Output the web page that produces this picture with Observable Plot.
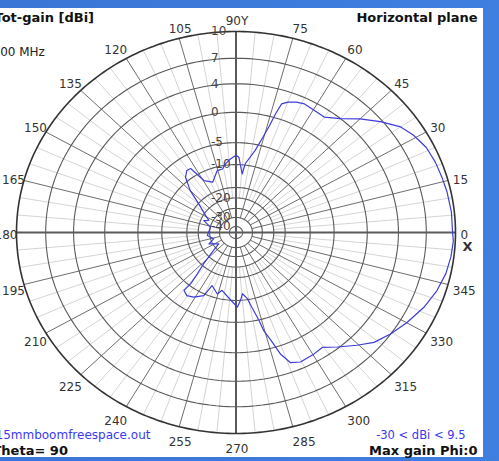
<!DOCTYPE html>
<html><head><meta charset="utf-8">
<script src="https://cdn.jsdelivr.net/npm/d3@7"></script>
<script src="https://cdn.jsdelivr.net/npm/@observablehq/plot@0.6"></script>
<style>
html,body{margin:0;padding:0;width:499px;height:461px;overflow:hidden;background:linear-gradient(90deg,#3a76d6,#3f7fdf);}
#panel{position:absolute;left:0;top:8px;width:483px;height:449px;background:#fff;}
#chart{position:absolute;left:0;top:0;}
</style></head><body>
<div id="panel"></div><div id="chart"></div>
<script>
// Pattern: azimuth (deg) and total gain (dBi)
const angleDeg = [0,6,12,16,21,26,31,35,40,45,50,55,60,64,67,70,72,73,74,75.5,78,83,84.5,88,90,94,98,101,105.5,113,119.5,123,126,130,135,140,148.5,154,158,167,186.5,197,204.5,215.5,222,226.5,229.5,231,230.5,234.5,239,245,247.5,254.5,257.5,266,271,273.5,275.5,279,280.5,283.5,284.5,286.5,288.5,291,294.5,300.5,304.5,309,314.5,319,324.5,330,336.5,342.5,348,353,357.5];
const gainDb = [9.7,9.7,9.6,9.5,9.4,9.2,8.7,8.1,6.8,5.4,4.0,2.9,3.0,3.2,3.0,2.6,2.1,0.6,-1.5,-3.6,-6.4,-9.7,-12.0,-8.3,-7.9,-8.7,-9.7,-10.7,-10.8,-12.9,-11.8,-8.1,-8.0,-9.1,-11.9,-15.2,-20.9,-23.3,-21.3,-25.1,-23.9,-26.6,-23.5,-27.6,-22.5,-16.0,-12.9,-10.4,-8.4,-7.8,-8.3,-9.6,-12.3,-10.9,-11.9,-10.0,-8.5,-10.0,-11.4,-10.2,-8.6,-4.9,-3.1,-1.3,1.1,2.7,3.1,2.9,2.7,3.8,5.1,6.2,7.0,7.7,8.5,9.1,9.5,9.7,9.8];
const ringDb = [10,7,4,0,-5,-10,-15,-20,-25,-30,-40];
const ringLabelDb = [10,7,4,0,-5,-10,-20,-30,-40];
const angleTicks = [0,15,30,45,60,75,90,105,120,135,150,165,180,195,210,225,240,255,270,285,300,315,330,345];
const angleLabels = ["0","15","30","45","60","75","90Y","105","120","135","150","165","180","195","210","225","240","255","270","285","300","315","330","345"];
const titleLeft = "Tot-gain [dBi]";
const freqText = "600 MHz";
const titleRight = "Horizontal plane";
const fileText = "15mmboomfreespace.out";
const thetaText = "Theta= 90";
const rangeText = "-30 < dBi < 9.5";
const maxText = "Max gain Phi:0";

// Radial dB scale of the chart (compressed log-like scale)
const R = d3.scaleLinear()
  .domain([-40,-30,-25,-20,-15,-10,-5,0,4,7,10])
  .range([0.03,0.075,0.12,0.172,0.224,0.338,0.447,0.598,0.74,0.867,1])
  .clamp(true);
const rad = a => a * Math.PI / 180;
const px = (db, a) => R(db) * Math.cos(rad(a));
const py = (db, a) => R(db) * Math.sin(rad(a));

const W = 499, H = 461, mL = 16, mR = 44, mT = 31, mB = 28;
const XR = (W - mL - mR) / 2, YR = (H - mT - mB) / 2; // px per unit

const ringPts = ringDb.filter(d => d !== 10).flatMap(db => d3.range(0, 361, 2).map(a => ({db, a})));
const outerPts = d3.range(0, 361, 1).map(a => ({db: 10, a}));
const minor = d3.range(0, 360, 5).filter(a => a % 15 !== 0);
const major = angleTicks.filter(a => a % 90 !== 0);
const pattern = angleDeg.map((a, i) => ({a, g: gainDb[i]}));
const closed = [...pattern, pattern[0]];

const ticks = angleTicks.map((a, i) => ({a, label: angleLabels[i], c: Math.cos(rad(a)), s: Math.sin(rad(a))}));
const grp = t => t.c > 0.2 ? "start" : t.c < -0.3 ? "end" : "middle";
const lx = t => px(10, t.a) + (grp(t) === "start" ? 7 * t.c - 2 : grp(t) === "end" ? 1 : 1) / XR;
const ly = t => py(10, t.a) - (-13 * t.s + 3) / YR;
const labelMark = anchor => Plot.text(ticks.filter(t => grp(t) === anchor), {
  x: lx, y: ly, text: "label", textAnchor: anchor, lineAnchor: "middle",
  fontSize: 12, fill: "#333"
});

const chart = Plot.plot({
  width: W, height: H,
  marginLeft: mL, marginRight: mR, marginTop: mT, marginBottom: mB,
  x: {domain: [-1, 1], axis: null},
  y: {domain: [-1, 1], axis: null},
  style: {background: "transparent", fontFamily: "DejaVu Sans", overflow: "hidden"},
  marks: [
    Plot.link(minor, {x1: a => px(-20, a), y1: a => py(-20, a), x2: a => px(10, a), y2: a => py(10, a), stroke: "#cfcfcf", strokeWidth: 0.9}),
    Plot.link(major, {x1: a => px(-30, a), y1: a => py(-30, a), x2: a => px(10, a), y2: a => py(10, a), stroke: "#6e6e6e", strokeWidth: 1}),
    Plot.line(ringPts, {x: d => px(d.db, d.a), y: d => py(d.db, d.a), z: "db", stroke: "#5a5a5a", strokeWidth: 1.1}),
    Plot.link([0, 90], {x1: a => px(10, a + 180), y1: a => py(10, a + 180), x2: a => px(10, a), y2: a => py(10, a), stroke: "#5a5a5a", strokeWidth: 2}),
    Plot.line(outerPts, {x: d => px(d.db, d.a), y: d => py(d.db, d.a), stroke: "#333", strokeWidth: 1.6}),
    Plot.text(ringLabelDb, {x: 0, y: d => R(d), dx: -25, text: d => String(d), textAnchor: "start", lineAnchor: "middle", fontSize: 12, fill: "#444"}),
    labelMark("start"), labelMark("end"), labelMark("middle"),
    Plot.text(["X"], {x: px(10, 0), y: 0, dx: 12, dy: 14, text: d => d, fontSize: 13, fontWeight: "bold", fill: "#333"}),
    Plot.line(closed, {x: d => px(d.g, d.a), y: d => py(d.g, d.a), stroke: "#3d3ddc", strokeWidth: 1.2}),
    Plot.text([titleLeft], {frameAnchor: "top-left", dx: -22, dy: -14, text: d => d, textAnchor: "start", lineAnchor: "middle", fontSize: 13, fontWeight: "bold", fill: "#111"}),
    Plot.text([freqText], {frameAnchor: "top-left", dx: -24, dy: 21, text: d => d, textAnchor: "start", lineAnchor: "middle", fontSize: 12, fill: "#222"}),
    Plot.text([titleRight], {frameAnchor: "top-right", dx: 22, dy: -14, text: d => d, textAnchor: "end", lineAnchor: "middle", fontSize: 13, fontWeight: "bold", fill: "#111"}),
    Plot.text([fileText], {frameAnchor: "bottom-left", dx: -21, dy: 2, text: d => d, textAnchor: "start", lineAnchor: "middle", fontSize: 12, fill: "#3a3af0"}),
    Plot.text([thetaText], {frameAnchor: "bottom-left", dx: -24, dy: 17, text: d => d, textAnchor: "start", lineAnchor: "middle", fontSize: 13, fontWeight: "bold", fill: "#111"}),
    Plot.text([rangeText], {frameAnchor: "bottom-right", dx: 10, dy: 2, text: d => d, textAnchor: "end", lineAnchor: "middle", fontSize: 11.5, fill: "#3a3af0"}),
    Plot.text([maxText], {frameAnchor: "bottom-right", dx: 22, dy: 17, text: d => d, textAnchor: "end", lineAnchor: "middle", fontSize: 13, fontWeight: "bold", fill: "#111"})
  ]
});
document.getElementById("chart").appendChild(chart);
</script>
</body></html>
